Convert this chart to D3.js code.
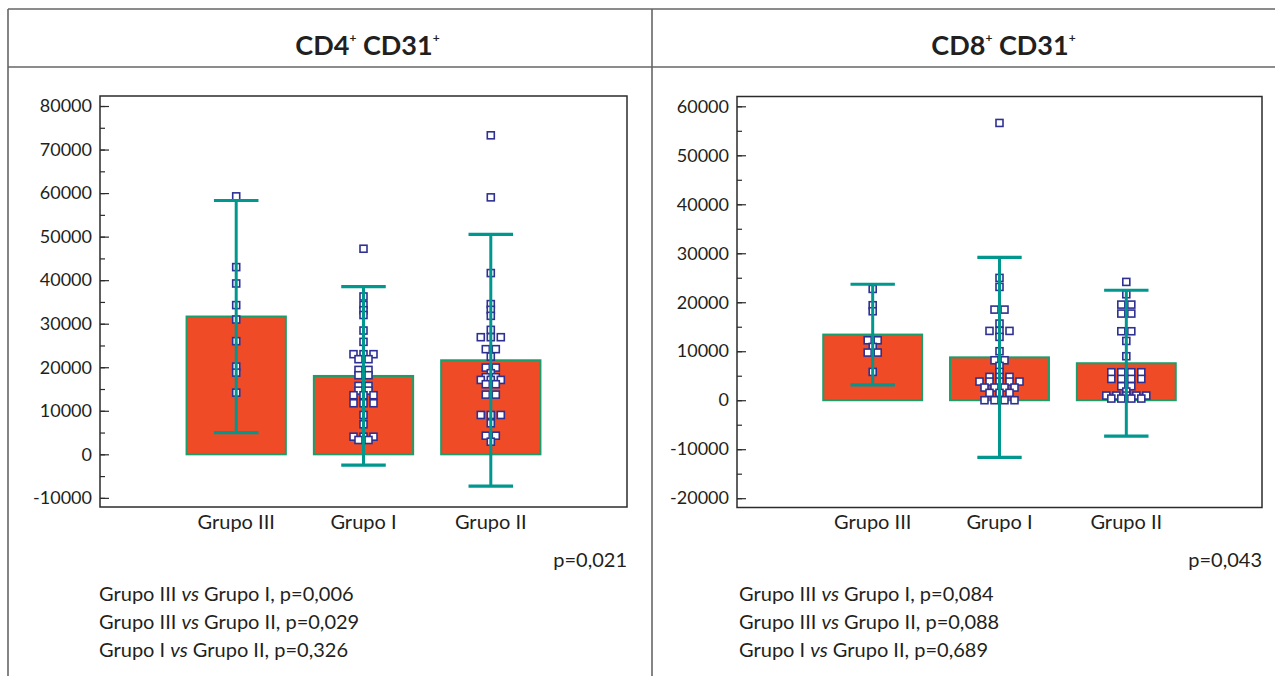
<!DOCTYPE html>
<html>
<head>
<meta charset="utf-8">
<script src="https://cdn.jsdelivr.net/npm/d3@7"></script>
<style>
  html, body { margin: 0; padding: 0; background: #fff; }
  svg { display: block; font-family: Lato, "Open Sans", sans-serif; }
</style>
</head>
<body>
<svg id="chart" width="1275" height="676"></svg>
<script>
// ---------------- DATA ----------------
const groups = ["Grupo III", "Grupo I", "Grupo II"];

// CD4+ CD31+
const cd4Mean = [31650, 18000, 21600];
const cd4Err  = [26650, 20500, 28900];
const cd4GrupoIII = [59250, 43000, 39240, 34270, 30960, 25990, 20150, 18770, 14170];
const cd4GrupoI = [47220, 36250, 34300, 33100, 32000, 28430, 25830,
  23000, 23000, 23000, 21850, 21850, 19390, 19390, 18170, 18170,
  15710, 15710, 14630, 14630, 13570, 13570, 13570, 11730, 11730, 11730,
  9040, 6900, 4050, 4050, 4050, 3290, 3290];
const cd4GrupoII = [73270, 59020, 41630, 34500, 33190, 31810, 28590,
  26900, 26900, 26900, 24150, 24150, 22450, 19920, 19920, 18630,
  17710, 17710, 17090, 17090, 17090, 16100, 16100, 13710, 13710,
  9040, 9040, 9040, 7130, 4280, 4280, 2900];
const cd4Ticks = [-10000, 0, 10000, 20000, 30000, 40000, 50000, 60000, 70000, 80000];
const cd4MinorTicks = [-10000, -5000, 0, 5000, 10000, 15000, 20000, 25000, 30000, 35000, 40000, 45000, 50000, 55000, 60000, 65000, 70000, 75000, 80000];

// CD8+ CD31+
const cd8Mean = [13400, 8750, 7550];
const cd8Err  = [10270, 20400, 14900];
const cd8GrupoIII = [22720, 19390, 18160, 12240, 12240, 10880, 9730, 9730, 5780];
const cd8GrupoI = [56600, 24970, 23130, 18500, 18500, 15650, 14150, 14150, 14150,
  12930, 10000, 8160, 8160, 7000, 5780, 4760, 4760, 4760, 3810, 3810, 3810, 3810, 3810,
  2590, 2590, 2590, 2590, 1500, 1500, 1500, 0, 0, 0, 0];
const cd8GrupoII = [24150, 21630, 19520, 19520, 17690, 17690, 14080, 14080, 12100, 8980,
  5710, 5710, 5710, 5710, 4350, 4350, 4350, 4350, 2860, 2860, 1770,
  950, 950, 950, 950, 950, 340, 340, 340, 340];
const cd8Ticks = [-20000, -10000, 0, 10000, 20000, 30000, 40000, 50000, 60000];
const cd8MinorTicks = [-20000, -15000, -10000, -5000, 0, 5000, 10000, 15000, 20000, 25000, 30000, 35000, 40000, 45000, 50000, 55000, 60000];

const pOverall = ["p=0,021", "p=0,043"];
const cd4Comparisons = [
  ["Grupo III", "Grupo I", "p=0,006"],
  ["Grupo III", "Grupo II", "p=0,029"],
  ["Grupo I", "Grupo II", "p=0,326"]
];
const cd8Comparisons = [
  ["Grupo III", "Grupo I", "p=0,084"],
  ["Grupo III", "Grupo II", "p=0,088"],
  ["Grupo I", "Grupo II", "p=0,689"]
];

// ---------------- STYLE ----------------
const TEXT = "#231f20";
const BAR_FILL = "#ef4b26";
const BAR_STROKE = "#1a9e6a";
const ERR = "#00978f";
const MARK = "#2e3192";
const FRAME = "#2b2b2b";
const RULE = "#666";

const svg = d3.select("#chart");

// panel rules
const rules = svg.append("g").attr("stroke", RULE).attr("stroke-width", 1.6).attr("fill", "none");
rules.append("line").attr("x1", 8).attr("x2", 1275).attr("y1", 9).attr("y2", 9);
rules.append("line").attr("x1", 8).attr("x2", 1275).attr("y1", 67).attr("y2", 67);
rules.append("line").attr("x1", 8).attr("x2", 8).attr("y1", 9).attr("y2", 676);
rules.append("line").attr("x1", 652).attr("x2", 652).attr("y1", 9).attr("y2", 676);

const panels = [
  { t1: "CD4", t2: "CD31", mean: cd4Mean, err: cd4Err,
    pts: [cd4GrupoIII, cd4GrupoI, cd4GrupoII], ticks: cd4Ticks, minor: cd4MinorTicks,
    domain: [-12100, 82300], x0: 100, x1: 627, y0: 96, y1: 507,
    p: pOverall[0], comps: cd4Comparisons, compX: 99 },
  { t1: "CD8", t2: "CD31", mean: cd8Mean, err: cd8Err,
    pts: [cd8GrupoIII, cd8GrupoI, cd8GrupoII], ticks: cd8Ticks, minor: cd8MinorTicks,
    domain: [-21900, 62000], x0: 737, x1: 1262, y0: 96.5, y1: 507.5,
    p: pOverall[1], comps: cd8Comparisons, compX: 739 }
];

panels.forEach(P => {
  const g = svg.append("g");
  const x = d3.scalePoint().domain(groups).range([P.x0, P.x1]).padding(1.07);
  const y = d3.scaleLinear().domain(P.domain).range([P.y1, P.y0]);
  const step = x.step();
  const barW = step * 0.78;
  const capW = step * 0.35;

  // title
  const cx = (P.x0 + P.x1) / 2 + 4;
  const title = g.append("text").attr("x", cx).attr("y", 55)
    .attr("text-anchor", "middle").attr("font-weight", 700)
    .attr("font-size", 27).attr("fill", TEXT);
  title.append("tspan").text(P.t1);
  title.append("tspan").text("+").attr("font-size", 12).attr("dy", -13);
  title.append("tspan").text(" " + P.t2).attr("dy", 13);
  title.append("tspan").text("+").attr("font-size", 12).attr("dy", -13);

  // bars
  g.selectAll("rect.bar").data(groups).join("rect").attr("class", "bar")
    .attr("x", d => x(d) - barW / 2)
    .attr("width", barW)
    .attr("y", (d, i) => y(P.mean[i]))
    .attr("height", (d, i) => y(0) - y(P.mean[i]))
    .attr("fill", BAR_FILL).attr("stroke", BAR_STROKE).attr("stroke-width", 2);

  // points (rows of equal values spread horizontally)
  groups.forEach((grp, gi) => {
    const rows = d3.group(P.pts[gi], v => v);
    const placed = [];
    rows.forEach((arr, v) => {
      const n = arr.length;
      arr.forEach((_, k) => placed.push({ v, off: (k - (n - 1) / 2) * 10 }));
    });
    g.selectAll(null).data(placed).join("rect")
      .attr("x", d => x(grp) + d.off - 3.5)
      .attr("y", d => y(d.v) - 3.5)
      .attr("width", 7).attr("height", 7)
      .attr("fill", "#fff").attr("stroke", MARK).attr("stroke-width", 1.6);
  });

  // error bars
  const eg = g.append("g").attr("stroke", ERR).attr("fill", "none");
  groups.forEach((grp, gi) => {
    const hi = P.mean[gi] + P.err[gi], lo = P.mean[gi] - P.err[gi];
    eg.append("line").attr("x1", x(grp)).attr("x2", x(grp))
      .attr("y1", y(hi)).attr("y2", y(lo)).attr("stroke-width", 3);
    [hi, lo].forEach(v => {
      eg.append("line").attr("x1", x(grp) - capW / 2).attr("x2", x(grp) + capW / 2)
        .attr("y1", y(v)).attr("y2", y(v)).attr("stroke-width", 3.2);
    });
  });

  // axes (ticks inward)
  const minorAx = g.append("g").attr("transform", `translate(${P.x0},0)`)
    .call(d3.axisLeft(y).tickValues(P.minor).tickSize(-5).tickFormat(""));
  minorAx.select(".domain").remove();
  minorAx.selectAll("line").attr("stroke", FRAME).attr("stroke-width", 1.2);

  const ax = g.append("g").attr("transform", `translate(${P.x0},0)`)
    .call(d3.axisLeft(y).tickValues(P.ticks).tickSizeInner(-9).tickSizeOuter(0)
      .tickPadding(8).tickFormat(d => String(d)));
  ax.select(".domain").remove();
  ax.selectAll("line").attr("stroke", FRAME).attr("stroke-width", 1.2);
  ax.selectAll("text").attr("font-size", 18).attr("fill", TEXT)
    .attr("font-family", "Lato, sans-serif");

  // frame
  g.append("rect").attr("x", P.x0).attr("y", P.y0)
    .attr("width", P.x1 - P.x0).attr("height", P.y1 - P.y0)
    .attr("fill", "none").attr("stroke", FRAME).attr("stroke-width", 1.5);

  // category labels
  g.selectAll(null).data(groups).join("text")
    .attr("x", d => x(d)).attr("y", 529)
    .attr("text-anchor", "middle").attr("font-size", 20).attr("fill", TEXT)
    .text(d => d);

  // overall p
  g.append("text").attr("x", P.x1).attr("y", 567).attr("text-anchor", "end")
    .attr("font-size", 20).attr("fill", TEXT).text(P.p);

  // comparisons
  P.comps.forEach((c, i) => {
    const t = g.append("text").attr("x", P.compX).attr("y", 601 + i * 28)
      .attr("font-size", 20).attr("fill", TEXT);
    t.append("tspan").text(c[0] + " ");
    t.append("tspan").text("vs").attr("font-style", "italic");
    t.append("tspan").text(" " + c[1] + ", " + c[2]);
  });
});
</script>
</body>
</html>
